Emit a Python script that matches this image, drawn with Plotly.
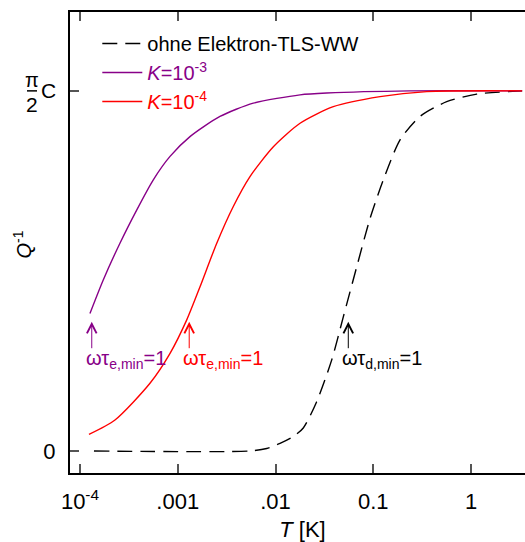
import plotly.graph_objects as go
import math

# ---- data (Q^-1 in units of pi/2*C) ----
T_dashed = [1.39e-4, 5.48e-3, 8.13e-3, 0.01112, 0.0152, 0.01923, 0.02636, 0.03758,
            0.04943, 0.0678, 0.0927, 0.1268, 0.1879, 0.3006, 0.5636, 1.143, 3.33]
Q_dashed = [0.0, 0.0, 0.007, 0.021, 0.040, 0.064, 0.137, 0.253,
            0.373, 0.512, 0.646, 0.753, 0.864, 0.929, 0.970, 0.991, 1.0]

T_K3 = [1.265e-4, 1.730e-4, 2.564e-4, 3.802e-4, 5.623e-4, 8.337e-4, 1.334e-3,
        2.704e-3, 5.929e-3, 0.01782, 0.03342, 0.236, 3.33]
Q_K3 = [0.382, 0.475, 0.577, 0.669, 0.753, 0.818, 0.873,
        0.929, 0.966, 0.989, 0.994, 1.0, 1.0]

T_K4 = [1.236e-4, 2.28e-4, 5.2e-4, 8.34e-4, 1.236e-3, 1.69e-3, 2.506e-3, 3.70e-3,
        5.48e-3, 9.51e-3, 0.01782, 0.039, 0.1172, 0.352, 3.33]
Q_K4 = [0.046, 0.086, 0.188, 0.271, 0.364, 0.456, 0.577, 0.679,
        0.762, 0.845, 0.910, 0.956, 0.984, 0.998, 1.0]

arrow_T = [1.32e-4, 1.31e-3, 0.0555]
arrow_Q = [0.359, 0.359, 0.359]
arrow_text = ["ωτ<sub>e,min</sub>=1", "ωτ<sub>e,min</sub>=1", "ωτ<sub>d,min</sub>=1"]

x_tickvals = [1e-4, 1e-3, 1e-2, 1e-1, 1]
x_ticktext = ["10<sup>-4</sup>", ".001", ".01", "0.1", "1"]

PURPLE = "#880088"
RED = "#ff0000"
FONT = "Liberation Sans, Arial, sans-serif"
SM = 0.7
W = 535          # wider than the window so the right edge is cut off like the original
PW = W - 70      # plot width in px

fig = go.Figure()
fig.add_trace(go.Scatter(x=T_dashed, y=Q_dashed, mode="lines",
                         line=dict(color="black", width=1.4, dash="15px,8px", shape="spline", smoothing=SM),
                         name="ohne Elektron-TLS-WW"))
fig.add_trace(go.Scatter(x=T_K3, y=Q_K3, mode="lines",
                         line=dict(color=PURPLE, width=1.4, shape="spline", smoothing=SM),
                         name=f'<span style="color:{PURPLE}"><i>K</i>=10<sup>-3</sup></span>'))
fig.add_trace(go.Scatter(x=T_K4, y=Q_K4, mode="lines",
                         line=dict(color=RED, width=1.4, shape="spline", smoothing=SM),
                         name=f'<span style="color:{RED}"><i>K</i>=10<sup>-4</sup></span>'))

colors = [PURPLE, RED, "black"]
for t, q, txt, c in zip(arrow_T, arrow_Q, arrow_text, colors):
    fig.add_annotation(x=math.log10(t), y=q, xref="x", yref="y", ax=0, ay=28,
                       showarrow=True, arrowhead=5, arrowsize=1.9, arrowwidth=1,
                       arrowcolor=c, text="")
    fig.add_annotation(x=math.log10(t), y=q, xref="x", yref="y", showarrow=False,
                       text=txt, font=dict(size=20, color=c, family=FONT),
                       xanchor="left", yanchor="top", xshift=-8, yshift=-23)

# pi/2 C tick label
fig.add_annotation(x=0, y=1, xref="paper", yref="y", text="π", showarrow=False,
                   font=dict(size=20, family=FONT, color="black"),
                   xanchor="center", yanchor="bottom", xshift=-38, yshift=-2)
fig.add_annotation(x=0, y=1, xref="paper", yref="y", text="2", showarrow=False,
                   font=dict(size=21, family=FONT, color="black"),
                   xanchor="center", yanchor="top", xshift=-38, yshift=0)
fig.add_annotation(x=0, y=1, xref="paper", yref="y", text="C", showarrow=False,
                   font=dict(size=21, family=FONT, color="black"),
                   xanchor="left", yanchor="middle", xshift=-31, yshift=0)
fig.add_shape(type="line", xref="paper", yref="y", x0=-43/PW, x1=-33/PW, y0=1, y1=1,
              line=dict(color="black", width=1.5))

# y-axis title
fig.add_annotation(x=0, y=0.5, xref="paper", yref="paper", text="<i>Q</i><sup>-1</sup>",
                   showarrow=False, textangle=-90, font=dict(size=20, family=FONT, color="black"),
                   xanchor="center", yanchor="middle", xshift=-48, yshift=-2)

fig.update_layout(
    width=W, height=542,
    margin=dict(l=70, r=0, t=12, b=69, autoexpand=False),
    paper_bgcolor="white", plot_bgcolor="white",
    font=dict(family=FONT, size=20, color="black"),
    showlegend=True,
    legend=dict(x=18/PW + 0.02, y=0.974, xanchor="left", yanchor="top",
                bgcolor="rgba(0,0,0,0)", font=dict(size=20, family=FONT),
                itemwidth=40, tracegroupgap=0),
)
fig.update_xaxes(type="log", range=[-4.102, 0.654], tickvals=x_tickvals, ticktext=x_ticktext,
                 ticks="inside", ticklen=9, tickwidth=1.5, tickcolor="#555",
                 showline=True, linewidth=2, linecolor="black", mirror="ticks",
                 showgrid=False, zeroline=False, tickfont=dict(size=22, family=FONT),
                 ticklabelstandoff=8, automargin=False,
                 title=dict(text="<i>T</i> [K]", font=dict(size=22, family=FONT), standoff=17))
fig.update_yaxes(range=[-0.0611, 1.219], tickvals=[0, 1], ticktext=["0", ""],
                 ticks="inside", ticklen=9, tickwidth=1.5, tickcolor="#555",
                 showline=True, linewidth=2, linecolor="black",
                 showgrid=False, zeroline=False, tickfont=dict(size=22, family=FONT),
                 ticklabelstandoff=8, automargin=False)

fig.write_html("out.html", config={"displayModeBar": False},
               post_script="document.body.style.margin='0';document.body.style.overflow='hidden';")
